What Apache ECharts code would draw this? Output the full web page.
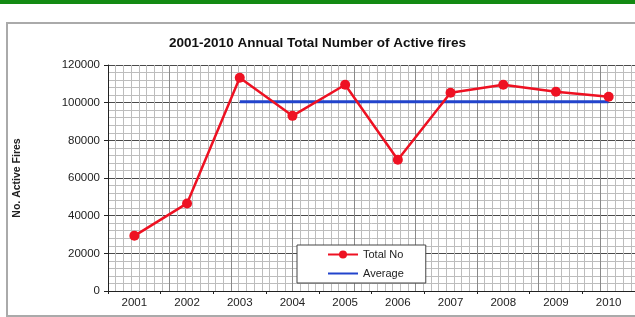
<!DOCTYPE html>
<html>
<head>
<meta charset="utf-8">
<script src="https://cdn.jsdelivr.net/npm/echarts@6/dist/echarts.min.js"></script>
<style>html,body{margin:0;padding:0;background:#fff}#c{width:635px;height:317px}</style>
</head>
<body>
<div id="c"></div>
<script>
const years = ['2001','2002','2003','2004','2005','2006','2007','2008','2009','2010'];
const totalNo = [29300, 46500, 113200, 93000, 109500, 69700, 105300, 109500, 105800, 103100];
const average = [null, null, 100500, 100500, 100500, 100500, 100500, 100500, 100500, 100500];
const yTicks = [0, 20000, 40000, 60000, 80000, 100000, 120000];

const chart = echarts.init(document.getElementById('c'), null, {renderer: 'canvas'});
const FONT = 'Liberation Sans, Arial, sans-serif';
chart.setOption({
  animation: false,
  backgroundColor: '#fff',
  title: {
    text: '2001-2010 Annual Total Number of Active fires',
    left: 'center', top: 31,
    textStyle: {fontFamily: FONT, fontSize: 13.5, fontWeight: 'bold', color: '#111'}
  },
  graphic: [
    {type: 'rect', shape: {x: 0, y: 0, width: 635, height: 4}, style: {fill: '#138a13'}, z: 10},
    {type: 'rect', shape: {x: 7, y: 23, width: 640, height: 293}, style: {fill: 'none', stroke: '#aaaaaa', lineWidth: 2}, z: -1}
  ],
  grid: {left: 108, top: 65, right: 0, bottom: 26, containLabel: false},
  legend: {
    orient: 'vertical',
    left: 297, top: 245,
    padding: [4, 22, 4, 30],
    itemWidth: 30, itemHeight: 10, itemGap: 8,
    backgroundColor: '#fff', borderColor: '#444', borderWidth: 1,
    textStyle: {fontFamily: FONT, fontSize: 11, color: '#222'},
    data: [{name: 'Total No'}, {name: 'Average', itemStyle: {opacity: 0}}]
  },
  xAxis: [
    {
      type: 'category', data: years, boundaryGap: true,
      axisLine: {show: true, lineStyle: {color: '#222', width: 1}},
      axisTick: {show: true, inside: false, length: 3, lineStyle: {color: '#222'}},
      axisLabel: {fontFamily: FONT, fontSize: 11.5, color: '#222', margin: 6},
      splitLine: {show: false}
    },
    {
      type: 'value', position: 'top', min: 0, max: 527, interval: 61.5,
      axisLine: {show: false}, axisTick: {show: false}, axisLabel: {show: false},
      splitLine: {show: true, lineStyle: {color: '#8a8a8a', width: 1}},
      minorTick: {show: false, splitNumber: 8},
      minorSplitLine: {show: true, lineStyle: {color: '#bdbdbd', width: 1}}
    }
  ],
  yAxis: {
    type: 'value', min: yTicks[0], max: yTicks[yTicks.length - 1], interval: 20000,
    name: 'No. Active Fires', nameLocation: 'middle', nameGap: 85,
    nameTextStyle: {fontFamily: FONT, fontSize: 10.5, fontWeight: 'bold', color: '#222'},
    axisLine: {show: true, lineStyle: {color: '#222', width: 1}},
    axisTick: {show: true, inside: false, length: 4, lineStyle: {color: '#222'}},
    axisLabel: {fontFamily: FONT, fontSize: 11.5, color: '#222', margin: 8,
      formatter: function (v) { return String(v); }},
    splitLine: {show: true, lineStyle: {color: '#4a4a4a', width: 1}},
    minorTick: {show: false, splitNumber: 5},
    minorSplitLine: {show: true, lineStyle: {color: '#bdbdbd', width: 1}}
  },
  series: [
    {
      name: 'Total No', type: 'line', data: totalNo, xAxisIndex: 0,
      symbol: 'circle', symbolSize: 10,
      lineStyle: {color: '#ee1122', width: 2.5},
      itemStyle: {color: '#ee1122'}, z: 5
    },
    {
      name: 'Average', type: 'line', data: average, xAxisIndex: 0,
      symbol: 'none', connectNulls: false,
      lineStyle: {color: '#2244cc', width: 3},
      itemStyle: {color: '#2244cc'}, z: 4
    }
  ]
});
</script>
</body>
</html>
